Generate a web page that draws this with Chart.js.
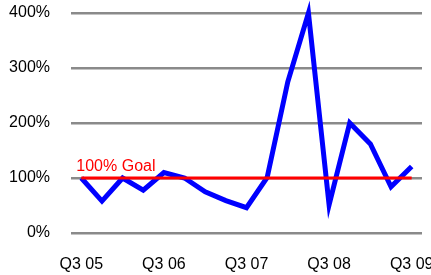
<!DOCTYPE html>
<html>
<head>
<meta charset="utf-8">
<script src="https://cdn.jsdelivr.net/npm/chart.js@4/dist/chart.umd.min.js"></script>
<style>
  html, body { margin: 0; padding: 0; background: #fff; }
  #wrap { width: 431px; height: 275px; }
</style>
</head>
<body>
<div id="wrap"><canvas id="c" width="431" height="275"></canvas></div>
<script>
const categories = ["Q3 05","Q4 05","Q1 06","Q2 06","Q3 06","Q4 06","Q1 07","Q2 07","Q3 07","Q4 07","Q1 08","Q2 08","Q3 08","Q4 08","Q1 09","Q2 09","Q3 09"];
const actualPct = [100, 58, 100, 78, 110, 100, 75, 59, 46, 101, 275, 400, 51, 200, 162, 84, 121];
const goalPct = 100;
const goalLabel = "100% Goal";
const yTicks = [0, 100, 200, 300, 400];

const FONT = "'Liberation Sans', Arial, sans-serif";

const goalTextPlugin = {
  id: 'goalText',
  afterDatasetsDraw(chart) {
    const x = chart.scales.x, y = chart.scales.y, ctx = chart.ctx;
    ctx.save();
    ctx.fillStyle = '#FF0000';
    ctx.font = "16px " + FONT;
    ctx.textAlign = 'left';
    ctx.textBaseline = 'alphabetic';
    ctx.fillText(goalLabel, x.getPixelForValue(0) - 5, y.getPixelForValue(goalPct) - 7);
    ctx.restore();
  }
};

new Chart(document.getElementById('c'), {
  type: 'line',
  data: {
    labels: categories,
    datasets: [
      {
        data: categories.map(() => goalPct),
        borderColor: '#FF0000',
        borderWidth: 3,
        pointRadius: 0,
        tension: 0,
        clip: false
      },
      {
        data: actualPct,
        borderColor: '#0000FF',
        borderWidth: 5,
        pointRadius: 0,
        tension: 0,
        borderJoinStyle: 'miter',
        clip: false
      }
    ]
  },
  options: {
    responsive: false,
    animation: false,
    layout: { padding: { top: 13, right: 9, bottom: 0, left: 0 } },
    plugins: { legend: { display: false }, tooltip: { enabled: false } },
    scales: {
      x: {
        offset: true,
        grid: { display: false, drawTicks: false },
        border: { display: false },
        ticks: {
          autoSkip: false,
          maxRotation: 0,
          padding: 22,
          color: '#000',
          font: { family: FONT, size: 16 },
          callback(v, i) { const l = categories[i]; return l.startsWith('Q3') ? l : ''; }
        },
        afterFit(s) { s.height = 42; s.paddingLeft = 0; s.paddingRight = 0; }
      },
      y: {
        min: 0, max: 400,
        afterBuildTicks(s) { s.ticks = yTicks.map(v => ({ value: v })); },
        grid: { color: '#8a8a8a', lineWidth: 2.5, drawTicks: false },
        border: { display: false },
        ticks: {
          padding: 21,
          color: '#000',
          font: { family: FONT, size: 16 },
          callback(v) { return v + '%'; }
        },
        afterFit(s) { s.width = 71; s.paddingTop = 0; s.paddingBottom = 0; }
      }
    }
  },
  plugins: [goalTextPlugin]
});
</script>
</body>
</html>
